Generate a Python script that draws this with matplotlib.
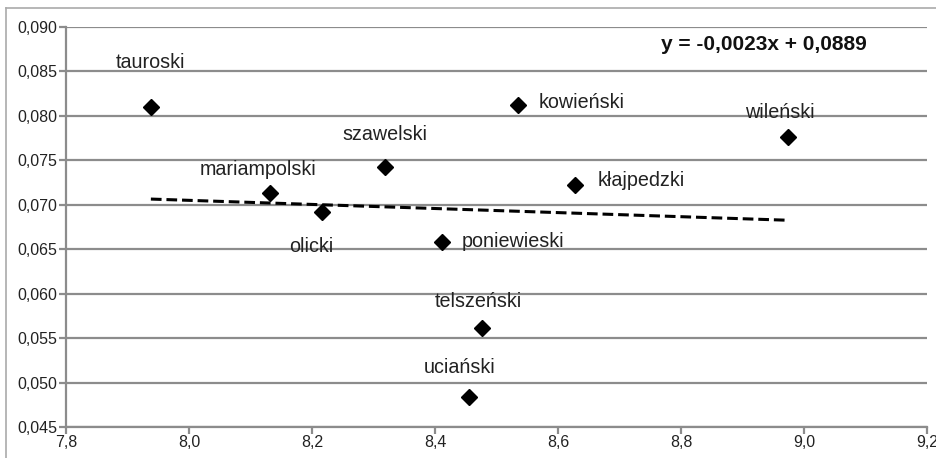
import matplotlib
matplotlib.use('Agg')
import matplotlib.pyplot as plt
from matplotlib.lines import Line2D
from matplotlib.ticker import FuncFormatter
from matplotlib import font_manager

plt.rcParams['font.family'] = ['Liberation Sans', 'DejaVu Sans']

# dane
nazwy = ['tauroski', 'mariampolski', 'olicki', 'szawelski', 'poniewieski',
         'telszeński', 'uciański', 'kowieński', 'kłajpedzki', 'wileński']
x_vals = [7.938, 8.132, 8.217, 8.319, 8.411, 8.477, 8.455, 8.535, 8.628, 8.974]
y_vals = [0.0810, 0.0713, 0.0692, 0.0743, 0.0658, 0.0561, 0.0484, 0.0812, 0.0722, 0.0776]

# linia trendu z równania na wykresie
nachylenie = -0.0023
wyraz_wolny = 0.0889

# przesunięcia etykiet (punkty), wyrównanie
etykiety = {
    'tauroski': (0, 32, 'center'),
    'mariampolski': (-8.5, 17, 'center'),
    'olicki': (-8, -25, 'center'),
    'szawelski': (0, 23, 'center'),
    'poniewieski': (14.5, 0.5, 'left'),
    'telszeński': (-3, 19.5, 'center'),
    'uciański': (-6.5, 21, 'center'),
    'kowieński': (14.5, 2, 'left'),
    'kłajpedzki': (16, 3.5, 'left'),
    'wileński': (-6, 18, 'center'),
}

# wąska czcionka dla osi, jeśli jest
nazwy_fontow = {f.name for f in font_manager.fontManager.ttflist}
if 'Liberation Sans Narrow' in nazwy_fontow:
    font_osi = {'family': 'Liberation Sans Narrow', 'size': 13.5}
else:
    font_osi = {'family': 'Liberation Sans', 'size': 11.5}

fig = plt.figure(figsize=(9.37, 4.58), dpi=100)
ax = fig.add_axes([66 / 937, 1 - 427 / 458, 861 / 937, 400 / 458])

szary = '#8c8c8c'
ax.set_xlim(7.8, 9.2)
ax.set_ylim(0.045, 0.090)
ax.set_xticks([7.8, 8.0, 8.2, 8.4, 8.6, 8.8, 9.0, 9.2])
ax.set_yticks([0.045 + 0.005 * i for i in range(10)])
ax.xaxis.set_major_formatter(FuncFormatter(lambda v, p: f'{v:.1f}'.replace('.', ',')))
ax.yaxis.set_major_formatter(FuncFormatter(lambda v, p: f'{v:.3f}'.replace('.', ',')))
ax.yaxis.grid(True, color=szary, linewidth=1.6)
ax.set_axisbelow(True)
for s in ['top', 'right']:
    ax.spines[s].set_visible(False)
for s in ['left', 'bottom']:
    ax.spines[s].set_color(szary)
    ax.spines[s].set_linewidth(1.6)
ax.tick_params(axis='both', colors=szary, width=1.6, length=5, labelcolor='#222222')
ax.tick_params(axis='x', pad=1)
ax.tick_params(axis='y', pad=1)
for lab in ax.get_xticklabels() + ax.get_yticklabels():
    lab.set_fontfamily(font_osi['family'])
    lab.set_fontsize(font_osi['size'])

xs = [min(x_vals), max(x_vals)]
ax.plot(xs, [nachylenie * v + wyraz_wolny for v in xs], linestyle=(0, (3.5, 1.6)),
        color='black', linewidth=2.2)
ax.plot(x_vals, y_vals, linestyle='None', marker='D', markersize=8, color='black')

for n, x, y in zip(nazwy, x_vals, y_vals):
    dx, dy, ha = etykiety[n]
    ax.annotate(n, (x, y), xytext=(dx, dy), textcoords='offset points',
                ha=ha, va='center', fontsize=14.2, color='#222222')

ax.text(0.811, 0.955, 'y = -0,0023x + 0,0889', transform=ax.transAxes, ha='center',
        va='center', fontsize=15, fontweight='bold', color='#111111')

# ramka wykresu
fig.add_artist(Line2D([6 / 937, 1], [1 - 8 / 458, 1 - 8 / 458], color='#aaaaaa', linewidth=1.2))
fig.add_artist(Line2D([6 / 937, 6 / 937], [0, 1 - 8 / 458], color='#aaaaaa', linewidth=1.2))

fig.savefig('out.png', dpi=100)
